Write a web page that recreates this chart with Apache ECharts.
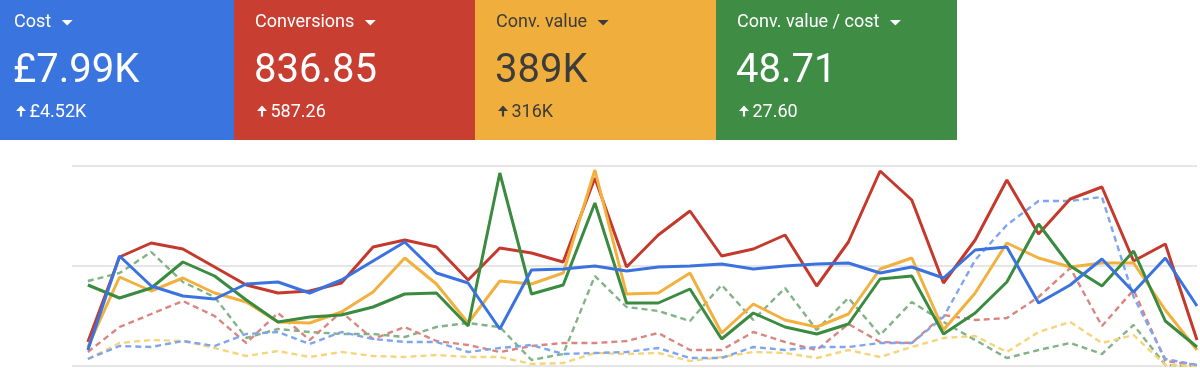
<!DOCTYPE html>
<html>
<head>
<meta charset="utf-8">
<script src="https://cdn.jsdelivr.net/npm/echarts@6/dist/echarts.min.js"></script>
<style>
html,body{margin:0;padding:0;background:#fff;}
#chart{width:1200px;height:368px;}
</style>
</head>
<body>
<div id="chart"></div>
<script>
// ---- KPI tiles ----
const tileLabels = ['Cost', 'Conversions', 'Conv. value', 'Conv. value / cost'];
const tileValues = ['£7.99K', '836.85', '389K', '48.71'];
const tileDeltas = ['£4.52K', '587.26', '316K', '27.60'];

// ---- Daily series (36 days), values in chart units (0-200) ----
const days = Array.from({length: 36}, (_, i) => 'Day ' + (i + 1));
const costNow = [16,110,80,70,67,82,84,73,86,105,124,93,83,37,96,97,100,95,99,100,102,97,100,102,103,93,99,88,116,119,63,81,107,74,108,60];
const convNow = [24,109,123,117,99,81,73,75,83,119,126,119,86,118,113,104,188,99,131,155,110,117,131,80,124,195,166,83,126,186,132,167,179,105,122,26];
const valueNow = [19,89,75,88,73,64,44,43,54,74,108,82,43,85,82,93,196,72,73,93,33,62,46,39,52,97,108,36,73,123,108,99,103,103,56,16];
const roasNow = [81,68,78,104,90,66,44,49,51,59,72,73,40,193,72,81,163,63,63,77,27,53,39,32,42,87,90,32,53,84,142,100,80,115,45,19];
const costPrev = [7,20,19,25,20,32,34,22,34,27,24,24,14,18,21,12,13,14,18,8,8,19,16,19,19,23,23,49,106,141,165,165,169,69,7,1];
const convPrev = [14,39,52,65,50,23,53,26,54,27,39,25,21,14,20,23,23,25,33,16,16,34,24,16,42,24,23,51,46,48,69,98,40,76,5,1];
const valuePrev = [7,23,26,25,18,10,15,9,14,10,9,11,9,9,2,3,13,12,13,5,9,14,13,8,16,9,19,28,30,14,34,44,23,31,1,0];
const roasPrev = [85,93,114,84,69,28,37,34,32,32,29,39,43,39,6,12,90,59,55,45,81,46,78,36,68,31,64,44,26,8,16,23,12,41,1,0];

const tileColors = ['#3a74de', '#c83e31', '#f0ae3c', '#3f8d45'];
const tileText = ['#ffffff', '#ffffff', '#3c3c3c', '#ffffff'];

const chart = echarts.init(document.getElementById('chart'), null, {renderer: 'canvas'});

const pairs = arr => arr.map((v, i) => [i, v]);

function lineSeries(name, data, color, dashed, z) {
  return {
    name: name,
    type: 'line',
    data: pairs(data),
    symbol: 'none',
    z: z,
    lineStyle: dashed
      ? {color: color, width: 2.4, type: [6, 4]}
      : {color: color, width: 3},
    itemStyle: {color: color},
    emphasis: {disabled: true}
  };
}

// measure text for dropdown triangles
const mctx = document.createElement('canvas').getContext('2d');
mctx.font = '18px Roboto';

const FONT = 'Roboto, "Noto Sans", sans-serif';
const graphics = [];
const tileW = 241;
tileLabels.forEach((lab, k) => {
  const x0 = -7 + k * tileW;
  graphics.push({type: 'rect', left: x0, top: 0, shape: {x: 0, y: 0, width: tileW, height: 140}, style: {fill: tileColors[k]}, z: 0});
  graphics.push({type: 'text', x: x0 + 21, y: 22, style: {text: lab, fill: tileText[k], font: '18px ' + FONT, verticalAlign: 'middle', align: 'left'}, z: 1});
  const w = mctx.measureText(lab).width;
  const tx = x0 + 21 + w + 10.5;
  graphics.push({type: 'polygon', shape: {points: [[tx, 20], [tx + 11, 20], [tx + 5.5, 25.5]]}, style: {fill: tileText[k]}, z: 1});
  graphics.push({type: 'text', x: x0 + 20, y: 72, style: {text: tileValues[k], fill: tileText[k], font: '40px ' + FONT, verticalAlign: 'middle', align: 'left'}, z: 1});
  const cx = x0 + 28;
  graphics.push({type: 'polygon', shape: {points: [[cx - 5, 111], [cx, 105.5], [cx + 5, 111]]}, style: {fill: tileText[k]}, z: 1});
  graphics.push({type: 'rect', shape: {x: cx - 1.1, y: 110, width: 2.2, height: 6.5}, style: {fill: tileText[k]}, z: 1});
  graphics.push({type: 'text', x: x0 + 36.5, y: 112, style: {text: tileDeltas[k], fill: tileText[k], font: '18px ' + FONT, verticalAlign: 'middle', align: 'left'}, z: 1});
});

const option = {
  animation: false,
  grid: {left: 72, right: 3, top: 166, bottom: 2},
  xAxis: {type: 'value', min: -0.5, max: 35, show: false},
  yAxis: {
    type: 'value', min: 0, max: 200, interval: 100,
    axisLabel: {show: false}, axisLine: {show: false}, axisTick: {show: false},
    splitLine: {lineStyle: {color: '#dedede', width: 1.5}}
  },
  series: [
    lineSeries('Conv. value / cost (previous)', roasPrev, '#82b287', true, 2),
    lineSeries('Conversions (previous)', convPrev, '#d98680', true, 2),
    lineSeries('Conv. value (previous)', valuePrev, '#f5d47c', true, 2),
    lineSeries('Cost (previous)', costPrev, '#7ea5ee', true, 2),
    lineSeries('Conversions', convNow, '#c5392d', false, 3),
    lineSeries('Conv. value', valueNow, '#f2b13e', false, 3),
    lineSeries('Conv. value / cost', roasNow, '#3a8a3f', false, 3),
    lineSeries('Cost', costNow, '#3a73e0', false, 3)
  ],
  graphic: graphics
};
chart.setOption(option);
</script>
</body>
</html>
